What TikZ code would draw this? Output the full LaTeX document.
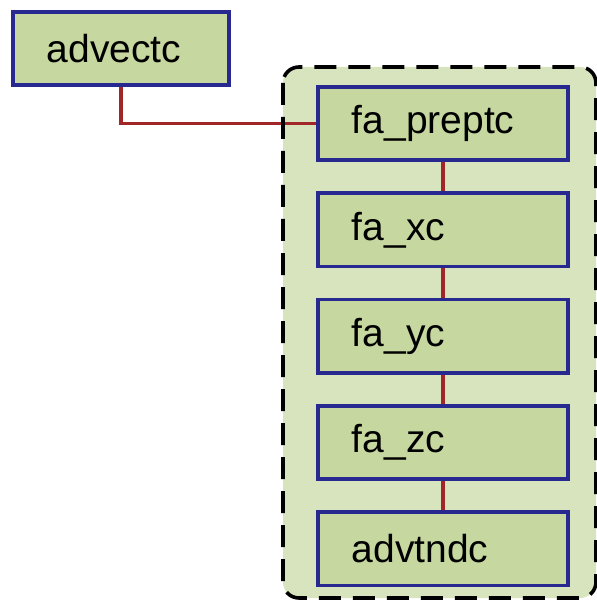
\documentclass[tikz,border=0pt]{standalone}
\usepackage{fontspec}
\setmainfont{Liberation Sans}
\usepackage{tikz}
\usetikzlibrary{positioning}

\definecolor{boxfill}{RGB}{198,215,159}
\definecolor{groupfill}{RGB}{216,228,190}
\definecolor{boxline}{RGB}{40,40,145}
\definecolor{linkred}{RGB}{160,38,40}

\begin{document}
\begin{tikzpicture}[x=1pt,y=-1pt]
        \def\boxH{73.5}
        \def\gap{29.2}

        \tikzset{
            routine/.style={draw=boxline, fill=boxfill, line width=3.6pt, minimum height=\boxH pt,
                inner xsep=34pt, align=left, font=\fontsize{39pt}{44pt}\selectfont},
            link/.style={draw=linkred, line width=3.6pt}
        }

        \useasboundingbox (0,0) rectangle (596,601);

        \coordinate (gNW) at (283,67);
        \coordinate (gSE) at (596,598);

        % group background
        \fill[groupfill, rounded corners=16pt] (gNW) rectangle (gSE);

        \node[routine, text width=148pt, anchor=north west] (advectc) at (11,10) {advectc};
        \node[routine, text width=182pt, anchor=north west] (preptc) at (316,85) {fa\_preptc};
        \node[routine, text width=182pt, below=\gap pt of preptc] (xc) {fa\_xc};
        \node[routine, text width=182pt, below=\gap pt of xc] (yc) {fa\_yc};
        \node[routine, text width=182pt, below=\gap pt of yc] (zc) {fa\_zc};
        \node[routine, text width=182pt, below=\gap pt of zc] (advtndc) {advtndc};

        \draw[link] (advectc.south) |- (preptc.west);
        \draw[link] (preptc) -- (xc);
        \draw[link] (xc) -- (yc);
        \draw[link] (yc) -- (zc);
        \draw[link] (zc) -- (advtndc);

        \draw[line width=3.6pt, dash pattern=on 22pt off 12pt, rounded corners=16pt] (gNW) rectangle (gSE);
    \end{tikzpicture}
\end{document}
